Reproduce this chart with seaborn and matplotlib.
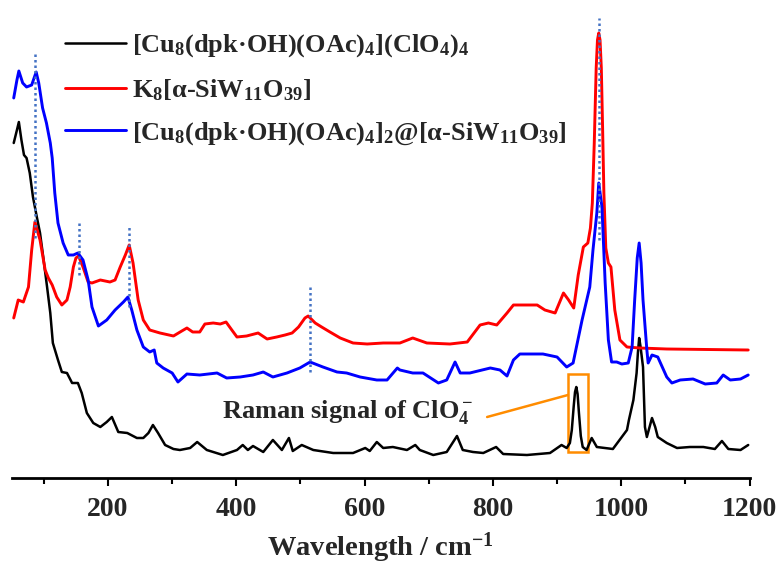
import numpy as np
import pandas as pd
import matplotlib
matplotlib.use('Agg')
import matplotlib.pyplot as plt
import matplotlib.patches as mpatches
from matplotlib.ticker import MultipleLocator
import seaborn as sns

# ---------------- data (arbitrary intensity units) ----------------
black_x = [53, 58, 61, 65, 69, 73, 78, 83, 89, 94, 99, 105, 110, 114, 122, 128, 136, 144, 153, 159,
           167, 177, 188, 198, 206, 216, 230, 245, 255, 263, 270, 278, 289, 302, 312, 328, 339, 354,
           379, 401, 410, 418, 426, 442, 457, 471, 482, 488, 502, 520, 551, 582, 601, 608, 619, 629,
           644, 666, 679, 686, 707, 728, 744, 753, 769, 785, 805, 816, 853, 889, 907, 915, 920, 923,
           926, 928, 930, 932, 934, 937, 940, 946, 954, 962, 987, 1009, 1012, 1019, 1024, 1026, 1028,
           1030, 1034, 1037, 1040, 1048, 1053, 1057, 1071, 1087, 1107, 1128, 1146, 1157, 1167, 1186, 1198]
black_y = [335, 348, 356, 338, 323, 320, 305, 281, 261, 245, 221, 191, 165, 135, 118, 106, 105, 95, 95, 85,
           65, 55, 51, 56, 61, 46, 45, 40, 40, 45, 53, 45, 33, 29, 28, 30, 36, 28,
           23, 28, 33, 28, 32, 26, 38, 28, 40, 27, 33, 28, 25, 25, 30, 27, 36, 30,
           31, 28, 33, 28, 23, 26, 42, 28, 26, 25, 31, 24, 23, 25, 33, 30, 35, 48,
           72, 86, 91, 84, 66, 42, 31, 28, 40, 31, 29, 48, 58, 78, 105, 125, 140,
           132, 111, 51, 41, 60, 51, 41, 35, 30, 31, 31, 29, 37, 29, 28, 33]

red_x = [53, 60, 68, 76, 81, 86, 90, 94, 102, 107, 113, 120, 128, 136, 141, 146, 150, 154, 161, 169,
         175, 188, 203, 211, 219, 227, 233, 239, 247, 255, 265, 281, 302, 315, 323, 332, 343, 351,
         364, 375, 384, 393, 401, 416, 434, 448, 463, 476, 487, 497, 507, 512, 523, 533, 546, 562,
         582, 604, 629, 655, 675, 697, 733, 760, 780, 793, 806, 822, 832, 869, 881, 897, 910, 918,
         926, 933, 941, 948, 952, 955, 958, 961, 963, 965, 967, 969, 971, 973, 976, 980, 984, 990,
         998, 1009, 1029, 1071, 1198]
red_y = [160, 178, 176, 191, 228, 256, 247, 238, 208, 200, 193, 181, 173, 178, 191, 211, 220, 222, 211, 196,
         195, 198, 196, 198, 211, 223, 233, 215, 178, 158, 148, 145, 142, 147, 150, 146, 146, 154,
         155, 154, 156, 148, 141, 142, 145, 139, 141, 143, 145, 151, 160, 162, 155, 151, 146, 140,
         135, 134, 135, 135, 140, 135, 134, 136, 153, 155, 153, 165, 173, 173, 168, 165, 185, 178,
         170, 203, 231, 235, 250, 275, 335, 410, 438, 445, 438, 410, 350, 285, 230, 215, 211, 168,
         138, 131, 130, 129, 128]

blue_x = [53, 58, 61, 67, 73, 81, 88, 92, 98, 104, 110, 113, 117, 122, 130, 138, 146, 153, 161, 169,
          175, 185, 198, 211, 224, 231, 237, 245, 255, 265, 272, 276, 286, 300, 309, 323, 343, 370,
          385, 406, 426, 442, 457, 479, 499, 515, 535, 557, 572, 593, 619, 635, 651, 655, 675, 691,
          715, 728, 741, 749, 764, 796, 811, 822, 832, 842, 878, 900, 915, 925, 939, 951, 956, 962,
          965, 970, 975, 980, 985, 993, 1001, 1011, 1017, 1021, 1025, 1028, 1031, 1034, 1040, 1042,
          1048, 1057, 1071, 1079, 1092, 1112, 1131, 1149, 1159, 1170, 1186, 1198]
blue_y = [380, 398, 407, 395, 391, 393, 406, 395, 370, 355, 335, 320, 285, 255, 235, 223, 223, 225, 218, 198,
          171, 152, 158, 168, 176, 181, 168, 148, 131, 126, 128, 115, 110, 105, 96, 104, 103, 105,
          100, 101, 103, 106, 101, 105, 110, 116, 111, 106, 105, 101, 98, 98, 110, 108, 105, 105,
          95, 98, 116, 105, 105, 110, 108, 102, 118, 124, 124, 121, 111, 115, 158, 191, 228, 265,
          295, 271, 195, 138, 116, 116, 114, 115, 131, 178, 220, 235, 215, 178, 128, 115,
          123, 121, 101, 95, 98, 99, 94, 95, 103, 98, 99, 103]

labels = [r'[Cu$_8$(dpk·OH)(OAc)$_4$](ClO$_4$)$_4$',
          r'K$_8$[α-SiW$_{11}$O$_{39}$]',
          r'[Cu$_8$(dpk·OH)(OAc)$_4$]$_2$@[α-SiW$_{11}$O$_{39}$]']
colors = ['#000000', '#FF0000', '#0000FF']

# dotted marker lines: position, lower end, upper end
mark_x = [86, 155, 232, 515, 965]
mark_lo = [240, 203, 171, 106, 238]
mark_hi = [425, 255, 252, 193, 460]

# ClO4- annotation box (x range, y range)
box_x = [917, 948]
box_y = [26, 104]
note_xy = [917, 83]
note_text_xy = [791, 61]
note_label_xy = [574, 60]

# ---------------- style ----------------
sns.set_theme(style='white')
plt.rcParams['font.family'] = ['Liberation Serif', 'DejaVu Serif']
plt.rcParams['font.weight'] = 'bold'
plt.rcParams['mathtext.fontset'] = 'custom'
plt.rcParams['mathtext.rm'] = 'Liberation Serif:bold'
plt.rcParams['mathtext.bf'] = 'Liberation Serif:bold'
plt.rcParams['mathtext.it'] = 'Liberation Serif:bold:italic'
plt.rcParams['mathtext.default'] = 'rm'

fig = plt.figure(figsize=(7.84, 5.69), dpi=100)
ax = fig.add_axes([11.8 / 784, 91 / 569, 737.7 / 784, 478 / 569])

series = [(black_x, black_y), (red_x, red_y), (blue_x, blue_y)]
lws = [1.8, 2.1, 2.1]
for (xs, ys), lab, col, lw in zip(series, labels, colors, lws):
    df = pd.DataFrame({'x': xs, 'y': ys})
    sns.lineplot(data=df, x='x', y='y', ax=ax, color=col, lw=lw, label=lab,
                 sort=False, estimator=None)

for mx, lo, hi in zip(mark_x, mark_lo, mark_hi):
    ax.plot([mx, mx], [lo, hi], color='#4472C4', lw=1.8, linestyle=(0, (1, 1.2)))

ax.add_patch(mpatches.Rectangle((box_x[0], box_y[0]), box_x[1] - box_x[0], box_y[1] - box_y[0],
                                fill=False, edgecolor='#FF8C00', lw=1.8))
ax.plot([note_xy[0], note_text_xy[0]], [note_xy[1], note_text_xy[1]], color='#FF8C00', lw=1.8)
ax.text(note_label_xy[0], note_label_xy[1], r'Raman signal of ClO$_4^-$', ha='center', va='baseline',
        fontsize=19, fontweight='bold')

ax.set_xlim(50, 1200)
ax.set_ylim(0, 478)
ax.set_ylabel('')
ax.set_yticks([])
ax.xaxis.set_major_locator(MultipleLocator(200))
ax.xaxis.set_minor_locator(MultipleLocator(100))
ax.set_xticks([200, 400, 600, 800, 1000, 1200])
ax.tick_params(axis='x', which='major', direction='out', length=6, width=1.5, pad=8,
               labelsize=20, bottom=True, color='black')
ax.tick_params(axis='x', which='minor', direction='out', length=4, width=1.5, bottom=True, color='black')
for lbl in ax.get_xticklabels():
    lbl.set_fontweight('bold')
ax.set_xlabel(r'Wavelength / cm$^{-1}$', fontsize=20.5, fontweight='bold', labelpad=6)
for s in ['left', 'top', 'right']:
    ax.spines[s].set_visible(False)
ax.spines['bottom'].set_linewidth(2)
ax.spines['bottom'].set_color('black')
ax.patch.set_alpha(0)

ax.legend(loc='upper left', bbox_to_anchor=(0.072, 0.932), frameon=False, fontsize=19,
          handlelength=2.3, handletextpad=0.25, labelspacing=0.67, borderpad=0, borderaxespad=0)

fig.savefig('out.png', dpi=100)
